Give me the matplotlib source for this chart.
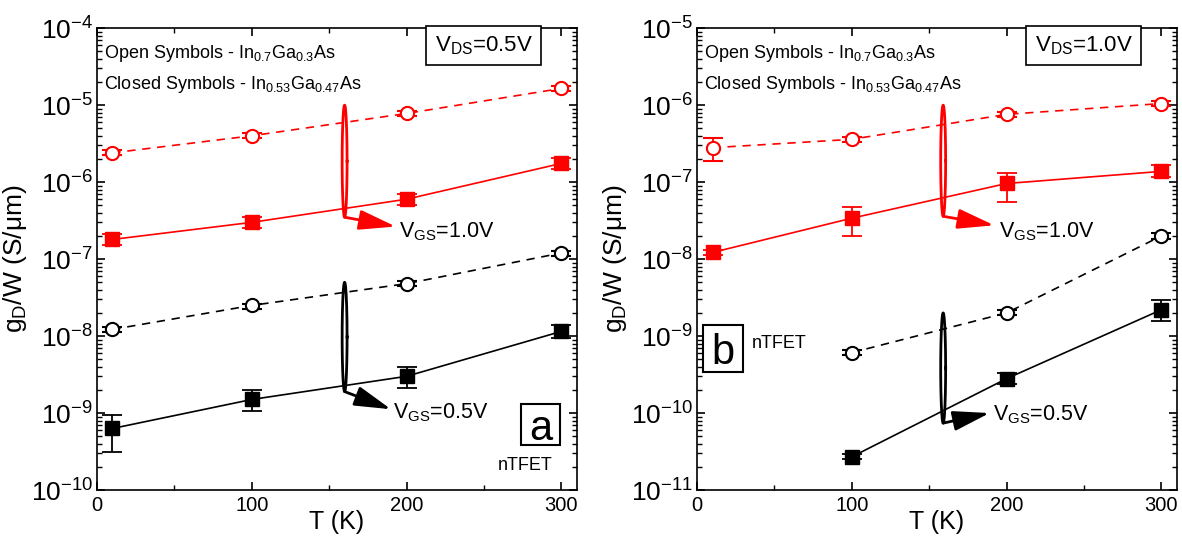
import matplotlib
matplotlib.use("Agg")
import matplotlib.pyplot as plt
from matplotlib.patches import Rectangle
from matplotlib.ticker import NullFormatter, LogLocator
import numpy as np

plt.rcParams['font.family'] = ['Liberation Sans', 'DejaVu Sans']
plt.rcParams['mathtext.fontset'] = 'custom'
plt.rcParams['mathtext.rm'] = 'Liberation Sans'
plt.rcParams['mathtext.it'] = 'Liberation Sans'
plt.rcParams['mathtext.default'] = 'regular'

RED = '#ff0000'

# panel a, V_DS = 0.5 V
a_T = [10, 100, 200, 300]
a_open_red = [2.4e-6, 4.0e-6, 7.8e-6, 1.65e-5]
a_closed_red = [1.8e-7, 3.0e-7, 6.0e-7, 1.75e-6]
a_closed_red_lo = [1.53e-7, 2.55e-7, 5.05e-7, 1.48e-6]
a_closed_red_hi = [2.12e-7, 3.55e-7, 7.1e-7, 2.08e-6]
a_open_black = [1.22e-8, 2.5e-8, 4.8e-8, 1.2e-7]
a_open_black_lo = [1.13e-8, 2.25e-8, 4.45e-8, 1.11e-7]
a_open_black_hi = [1.31e-8, 2.62e-8, 5.15e-8, 1.29e-7]
a_closed_black = [6.3e-10, 1.5e-9, 3.0e-9, 1.15e-8]
a_closed_black_lo = [3.1e-10, 1.05e-9, 2.1e-9, 9.3e-9]
a_closed_black_hi = [9.5e-10, 2.0e-9, 4.0e-9, 1.38e-8]

# panel b, V_DS = 1.0 V
b_T = [10, 100, 200, 300]
b_open_red = [2.8e-7, 3.6e-7, 7.6e-7, 1.05e-6]
b_open_red_lo = [1.9e-7, 3.35e-7, 7.1e-7, 9.8e-7]
b_open_red_hi = [3.7e-7, 3.9e-7, 8.1e-7, 1.12e-6]
b_closed_red = [1.22e-8, 3.4e-8, 9.6e-8, 1.38e-7]
b_closed_red_lo = [1.12e-8, 2.0e-8, 5.6e-8, 1.15e-7]
b_closed_red_hi = [1.33e-8, 4.8e-8, 1.33e-7, 1.65e-7]
b_T_black = [100, 200, 300]
b_open_black = [6.1e-10, 2.0e-9, 2.0e-8]
b_closed_black = [2.7e-11, 2.8e-10, 2.2e-9]
b_closed_black_lo = [2.5e-11, 2.35e-10, 1.55e-9]
b_closed_black_hi = [2.9e-11, 3.3e-10, 2.95e-9]


def yerr(y, lo, hi):
    y = np.asarray(y)
    return [y - np.asarray(lo), np.asarray(hi) - y]


def open_series(ax, T, y, color, lo=None, hi=None):
    y = np.asarray(y)
    if lo is None:
        lo, hi = y / 1.08, y * 1.08
    ax.errorbar(T, y, yerr=yerr(y, lo, hi), color=color, marker='o', ms=9.5,
                mfc='white', mec=color, mew=1.5, ls=(0, (5, 4)), lw=1.2,
                capsize=7, capthick=1.3, elinewidth=1.3, zorder=3)


def closed_series(ax, T, y, color, lo, hi):
    ax.errorbar(T, y, yerr=yerr(y, lo, hi), color=color, marker='s', ms=9.5,
                ls='-', lw=1.2, capsize=7, capthick=1.3, elinewidth=1.3, zorder=3)


def ellipse(ax, x0, ytop, ybot, color, arrow_to, label, label_xy):
    t = np.linspace(0, 2 * np.pi, 200)
    c = (np.log10(ytop) + np.log10(ybot)) / 2
    h = (np.log10(ytop) - np.log10(ybot)) / 2
    ax.plot(x0 + 1.6 * np.cos(t), 10 ** (c + h * np.sin(t)), color=color, lw=2, zorder=4)
    ax.annotate('', xy=arrow_to, xytext=(x0, ybot),
                arrowprops=dict(arrowstyle='-|>,head_length=1.4,head_width=0.38',
                                color=color, lw=2, mutation_scale=16,
                                shrinkA=0, shrinkB=0), zorder=4)
    ax.text(label_xy[0], label_xy[1], label, fontsize=15.5, va='center', ha='left')


def boxed_letter(ax, letter, x0, y0, x1, y1):
    ax.add_patch(Rectangle((x0, y0), x1 - x0, y1 - y0, transform=ax.transAxes,
                           fc='white', ec='black', lw=1.5, zorder=5))
    ax.text((x0 + x1) / 2, (y0 + y1) / 2, letter, transform=ax.transAxes, fontsize=30,
            ha='center', va='center_baseline', zorder=6)


def setup(ax, ylim, vds):
    ax.set_yscale('log')
    ax.set_xlim(0, 310)
    ax.set_ylim(*ylim)
    lo, hi = np.log10(ylim)
    ax.set_yticks(10.0 ** np.arange(lo, hi + 1))
    ax.yaxis.set_minor_locator(LogLocator(base=10, subs=np.arange(2, 10)))
    ax.yaxis.set_minor_formatter(NullFormatter())
    ax.set_xticks([0, 100, 200, 300])
    ax.set_xticks([50, 150, 250], minor=True)
    ax.tick_params(which='both', direction='in', top=True, right=True)
    ax.tick_params(which='major', length=6, width=1.2)
    ax.tick_params(which='minor', length=3.5, width=1)
    ax.tick_params(axis='x', labelsize=14.5, pad=4)
    ax.tick_params(axis='y', labelsize=19, pad=3)
    for s in ax.spines.values():
        s.set_linewidth(1.2)
    ax.set_xlabel('T (K)', fontsize=18, labelpad=-3)
    ax.set_ylabel(r'g$_\mathrm{D}$/W (S/$\mu$m)', fontsize=19, labelpad=1)
    ax.text(0.015, 0.945, r'Open Symbols - In$_{0.7}$Ga$_{0.3}$As', transform=ax.transAxes,
            fontsize=13, va='center')
    ax.text(0.015, 0.878, r'Closed Symbols - In$_{0.53}$Ga$_{0.47}$As', transform=ax.transAxes,
            fontsize=13, va='center')
    ax.text(0.806, 0.963, r'V$_{\mathrm{DS}}$=%s' % vds, transform=ax.transAxes,
            fontsize=16, va='center', ha='center',
            bbox=dict(boxstyle='square,pad=0.38', fc='white', ec='black', lw=1.2))


fig = plt.figure(figsize=(11.82, 5.37), dpi=100)
ax1 = fig.add_axes([0.082, 0.0875, 0.406, 0.860])
ax2 = fig.add_axes([0.5897, 0.0875, 0.406, 0.860])

setup(ax1, (1e-10, 1e-4), '0.5V')
open_series(ax1, a_T, a_open_red, RED)
closed_series(ax1, a_T, a_closed_red, RED, a_closed_red_lo, a_closed_red_hi)
open_series(ax1, a_T, a_open_black, 'black', a_open_black_lo, a_open_black_hi)
closed_series(ax1, a_T, a_closed_black, 'black', a_closed_black_lo, a_closed_black_hi)
ellipse(ax1, 160, 1.0e-5, 3.5e-7, RED, (193, 2.65e-7), r'V$_{\mathrm{GS}}$=1.0V', (195, 2.3e-7))
ellipse(ax1, 160, 5.0e-8, 1.9e-9, 'black', (190, 1.12e-9), r'V$_{\mathrm{GS}}$=0.5V', (191, 1.0e-9))
boxed_letter(ax1, 'a', 0.883, 0.097, 0.965, 0.186)
ax1.text(0.892, 0.054, 'nTFET', transform=ax1.transAxes, fontsize=13, ha='center', va='center')

setup(ax2, (1e-11, 1e-5), '1.0V')
open_series(ax2, b_T, b_open_red, RED, b_open_red_lo, b_open_red_hi)
closed_series(ax2, b_T, b_closed_red, RED, b_closed_red_lo, b_closed_red_hi)
open_series(ax2, b_T_black, b_open_black, 'black')
closed_series(ax2, b_T_black, b_closed_black, 'black', b_closed_black_lo, b_closed_black_hi)
ellipse(ax2, 159, 1.0e-6, 3.6e-8, RED, (192, 2.75e-8), r'V$_{\mathrm{GS}}$=1.0V', (195, 2.3e-8))
ellipse(ax2, 159, 2.0e-9, 7.4e-11, 'black', (189, 1.0e-10), r'V$_{\mathrm{GS}}$=0.5V', (191, 9.5e-11))
boxed_letter(ax2, 'b', 0.0125, 0.255, 0.096, 0.357)
ax2.text(0.115, 0.318, 'nTFET', transform=ax2.transAxes, fontsize=13, ha='left', va='center')

fig.savefig('out.png', dpi=100)
